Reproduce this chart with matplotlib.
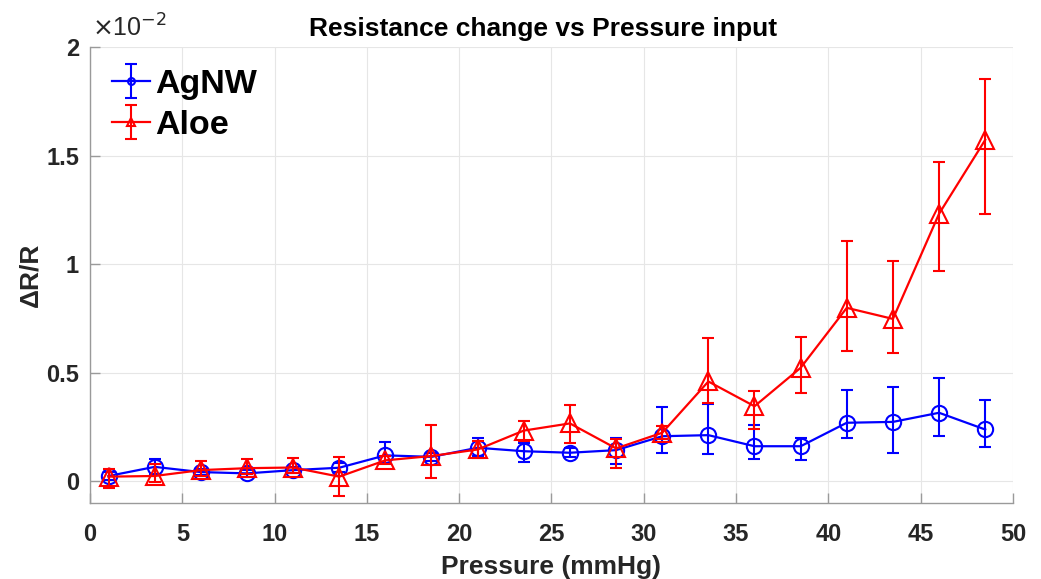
import matplotlib
matplotlib.use('Agg')
import matplotlib.pyplot as plt
from matplotlib.ticker import FuncFormatter, MultipleLocator

plt.rcParams['font.family'] = ['Liberation Sans', 'DejaVu Sans']

# pressure steps (mmHg)
pressure = [1, 3.5, 6, 8.5, 11, 13.5, 16, 18.5, 21, 23.5,
            26, 28.5, 31, 33.5, 36, 38.5, 41, 43.5, 46, 48.5]

# dR/R in units of 1e-2
agnw = [0.025, 0.067, 0.043, 0.037, 0.052, 0.063, 0.120, 0.113, 0.155, 0.139,
        0.132, 0.144, 0.208, 0.213, 0.162, 0.162, 0.270, 0.274, 0.316, 0.239]
agnw_lo = [0.020, 0.035, 0.015, 0.015, 0.015, 0.020, 0.034, 0.020, 0.040, 0.050,
           0.020, 0.066, 0.079, 0.086, 0.058, 0.065, 0.072, 0.145, 0.108, 0.081]
agnw_hi = [0.020, 0.037, 0.015, 0.015, 0.015, 0.020, 0.062, 0.020, 0.045, 0.040,
           0.020, 0.056, 0.135, 0.144, 0.097, 0.038, 0.153, 0.161, 0.158, 0.135]

aloe = [0.022, 0.025, 0.052, 0.061, 0.064, 0.022, 0.097, 0.117, 0.147, 0.234,
        0.267, 0.152, 0.224, 0.460, 0.346, 0.523, 0.799, 0.748, 1.232, 1.572]
aloe_lo = [0.051, 0.028, 0.027, 0.029, 0.024, 0.089, 0.015, 0.103, 0.038, 0.049,
           0.089, 0.089, 0.031, 0.100, 0.107, 0.118, 0.200, 0.159, 0.265, 0.340]
aloe_hi = [0.036, 0.053, 0.041, 0.040, 0.042, 0.090, 0.020, 0.142, 0.038, 0.043,
           0.087, 0.044, 0.033, 0.200, 0.072, 0.142, 0.306, 0.265, 0.238, 0.281]

fig = plt.figure(figsize=(10.41, 5.79), dpi=100)
ax = fig.add_axes([0.0865, 0.131, 0.8865, 0.788])

ax.errorbar(pressure, agnw, yerr=[agnw_lo, agnw_hi], color='#0000ff', marker='o',
            markersize=11, markerfacecolor='none', markeredgewidth=1.5, linewidth=1.6,
            elinewidth=1.5, capsize=4, capthick=1.5, label='AgNW', zorder=3)
ax.errorbar(pressure, aloe, yerr=[aloe_lo, aloe_hi], color='#ff0000', marker='^',
            markersize=13, markerfacecolor='none', markeredgewidth=1.5, linewidth=1.6,
            elinewidth=1.5, capsize=4, capthick=1.5, label='Aloe', zorder=4)

ax.set_xlim(0, 50)
ax.set_ylim(-0.1, 2)
ax.xaxis.set_major_locator(MultipleLocator(5))
ax.yaxis.set_major_locator(MultipleLocator(0.5))
ax.yaxis.set_major_formatter(FuncFormatter(lambda v, p: '%g' % v))

ax.grid(True, color='#e6e6e6', linewidth=0.8)
ax.set_axisbelow(True)
for side in ['top', 'right']:
    ax.spines[side].set_visible(False)
for side in ['left', 'bottom']:
    ax.spines[side].set_color('#9a9a9a')
    ax.spines[side].set_linewidth(1.0)
ax.tick_params(direction='in', length=7, width=1, color='#9a9a9a',
               labelsize=17, labelcolor='#262626')
ax.tick_params(axis='x', pad=14)
ax.tick_params(axis='y', pad=8)
for lbl in ax.get_xticklabels() + ax.get_yticklabels():
    lbl.set_fontweight('bold')

ax.set_title('Resistance change vs Pressure input', fontsize=19, fontweight='bold',
             pad=8, x=0.491)
ax.set_xlabel('Pressure (mmHg)', fontsize=19, fontweight='bold', color='#262626', labelpad=7)
ax.set_ylabel('\u0394R/R', fontsize=19, fontweight='bold', color='#262626', labelpad=3)
ax.text(0.002, 1.012, r'$\times$10$^{-2}$', transform=ax.transAxes, fontsize=18,
        color='#262626', ha='left', va='bottom')

leg = ax.legend(loc='upper left', frameon=False, markerscale=0.45,
                handlelength=1.1, handletextpad=0.15, labelspacing=0.3,
                borderaxespad=0.25, prop={'weight': 'bold', 'size': 24.5})

fig.savefig('out.png', dpi=100)
